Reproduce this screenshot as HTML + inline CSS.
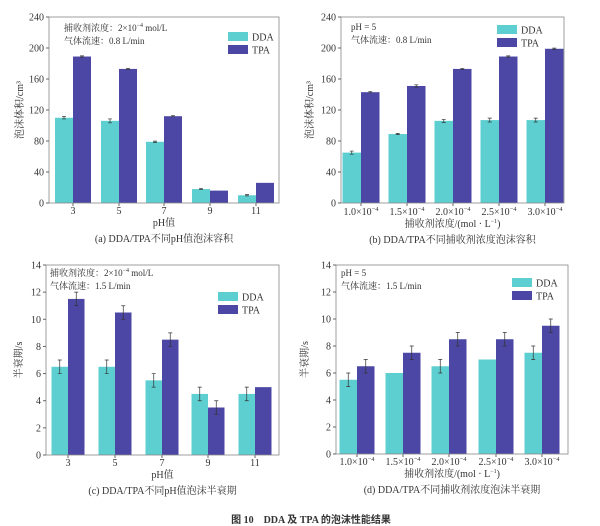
<!DOCTYPE html>
<html><head><meta charset="utf-8"><style>
html,body{margin:0;padding:0;background:#fff;width:600px;height:526px;overflow:hidden}
svg text{font-family:"Liberation Serif","Noto Serif CJK SC",serif;fill:#333}
</style></head><body>
<svg id="s" width="600" height="526" xmlns="http://www.w3.org/2000/svg"></svg>
<script>
const s=document.getElementById('s');let h='';
const C1='#5ecfd0',C2='#4c47a4';
function panel(o){
 const {x0,x1,yt,yb,max,step,cats,w,dda,tpa,de,te,labels,sup,ylab,ylx,xlab,cap,legx,legy,ann,annx,anny,xly}=o;
 const sc=(yb-yt)/max, Y=v=>yb-v*sc;
 for(let i=0;i<5;i++){const c=cats[i];
  h+=`<rect x="${c-w}" y="${Y(dda[i])}" width="${w}" height="${dda[i]*sc}" fill="${C1}"/>`;
  h+=`<rect x="${c}" y="${Y(tpa[i])}" width="${w}" height="${tpa[i]*sc}" fill="${C2}"/>`;
  [[c-w/2,dda[i],de[i]],[c+w/2,tpa[i],te[i]]].forEach(([cx,v,e])=>{if(e>0){
   h+=`<path d="M${cx} ${Y(v+e)}V${Y(v-e)}M${cx-2} ${Y(v+e)}H${cx+2}M${cx-2} ${Y(v-e)}H${cx+2}" stroke="#333" stroke-width="0.7" fill="none"/>`;}});
  h+=`<line x1="${c}" y1="${yb}" x2="${c}" y2="${yb+3}" stroke="#666"/>`;
  h+=`<text x="${c}" y="${xly}" font-size="10" text-anchor="middle">${labels[i]}${sup?'<tspan font-size="6.5" dy="-4">−4</tspan>':''}</text>`;
 }
 h+=`<rect x="${x0}" y="${yt}" width="${x1-x0}" height="${yb-yt}" fill="none" stroke="#888" stroke-width="0.8"/>`;
 for(let v=0;v<=max;v+=step){const y=Y(v);
  h+=`<line x1="${x0-3}" y1="${y}" x2="${x0}" y2="${y}" stroke="#666"/><text x="${x0-5}" y="${y+3.5}" font-size="10" text-anchor="end">${v}</text>`;}
 h+=`<text transform="translate(${ylx},${(yt+yb)/2}) rotate(-90)" font-size="10" text-anchor="middle">${ylab}</text>`;
 h+=`<text x="${(x0+x1)/2}" y="${xly+12}" font-size="10" text-anchor="middle">${xlab}</text>`;
 h+=`<text x="${(x0+x1)/2}" y="${xly+28}" font-size="10" text-anchor="middle">${cap}</text>`;
 h+=`<rect x="${legx}" y="${legy}" width="20" height="9" fill="${C1}"/><rect x="${legx}" y="${legy+13}" width="20" height="9" fill="${C2}"/>`;
 h+=`<text x="${legx+24}" y="${legy+8.5}" font-size="10">DDA</text><text x="${legx+24}" y="${legy+21.5}" font-size="10">TPA</text>`;
 ann.forEach((a,i)=>h+=`<text x="${annx}" y="${anny+i*13}" font-size="9">${a}</text>`);
}
panel({x0:49,x1:279,yt:17,yb:203,max:240,step:40,cats:[73,119,164,210,256],w:18,
 dda:[110,106,79,18,10],tpa:[189,173,112,16,26],de:[1.5,2.5,0.8,0.8,0.8],te:[0.8,0.8,0.8,0,0],
 labels:['3','5','7','9','11'],ylab:'泡沫体积/cm³',ylx:23,xlab:'pH值',cap:'(a) DDA/TPA不同pH值泡沫容积',
 legx:228,legy:32,ann:['捕收剂浓度：2×10<tspan font-size="6" dy="-4">−4</tspan><tspan dy="4"> mol/L</tspan>','气体流速：0.8 L/min'],annx:64,anny:31,xly:214});
panel({x0:341,x1:564,yt:17,yb:203,max:240,step:40,cats:[361,407,453,499,545],w:18.5,
 dda:[65,89,106,107,107],tpa:[143,151,173,189,199],de:[2,0.8,2,2.5,2.5],te:[0.8,1.5,0.8,0.8,0.8],
 labels:['1.0×10','1.5×10','2.0×10','2.5×10','3.0×10'],sup:1,ylab:'泡沫体积/cm³',ylx:313,xlab:'捕收剂浓度/(mol · L<tspan font-size="6" dy="-4">−1</tspan><tspan dy="4">)</tspan>',cap:'(b) DDA/TPA不同捕收剂浓度泡沫容积',
 legx:497,legy:25,ann:['pH = 5','气体流速：0.8 L/min'],annx:351,anny:30,xly:215});
panel({x0:46,x1:279,yt:265,yb:455,max:14,step:2,cats:[68,115,162,208,255],w:16.5,
 dda:[6.5,6.5,5.5,4.5,4.5],tpa:[11.5,10.5,8.5,3.5,5],de:[0.5,0.5,0.5,0.5,0.5],te:[0.5,0.5,0.5,0.5,0],
 labels:['3','5','7','9','11'],ylab:'半衰期/s',ylx:22,xlab:'pH值',cap:'(c) DDA/TPA不同pH值泡沫半衰期',
 legx:218,legy:292,ann:['捕收剂浓度：2×10<tspan font-size="6" dy="-4">−4</tspan><tspan dy="4"> mol/L</tspan>','气体流速：1.5 L/min'],annx:50,anny:276,xly:466});
panel({x0:336,x1:568,yt:265,yb:454,max:14,step:2,cats:[357,403,449,496,542],w:17.5,
 dda:[5.5,6,6.5,7,7.5],tpa:[6.5,7.5,8.5,8.5,9.5],de:[0.5,0,0.5,0,0.5],te:[0.5,0.5,0.5,0.5,0.5],
 labels:['1.0×10','1.5×10','2.0×10','2.5×10','3.0×10'],sup:1,ylab:'半衰期/s',ylx:308,xlab:'捕收剂浓度/(mol · L<tspan font-size="6" dy="-4">−1</tspan><tspan dy="4">)</tspan>',cap:'(d) DDA/TPA不同捕收剂浓度泡沫半衰期',
 legx:512,legy:278,ann:['pH = 5','气体流速：1.5 L/min'],annx:341,anny:276,xly:465});
h+=`<text x="311" y="523" font-size="10" font-weight="bold" text-anchor="middle" style="font-family:'Liberation Serif','Noto Sans CJK SC',serif">图 10　DDA 及 TPA 的泡沫性能结果</text>`;
s.innerHTML=h;
</script>
</body></html>
